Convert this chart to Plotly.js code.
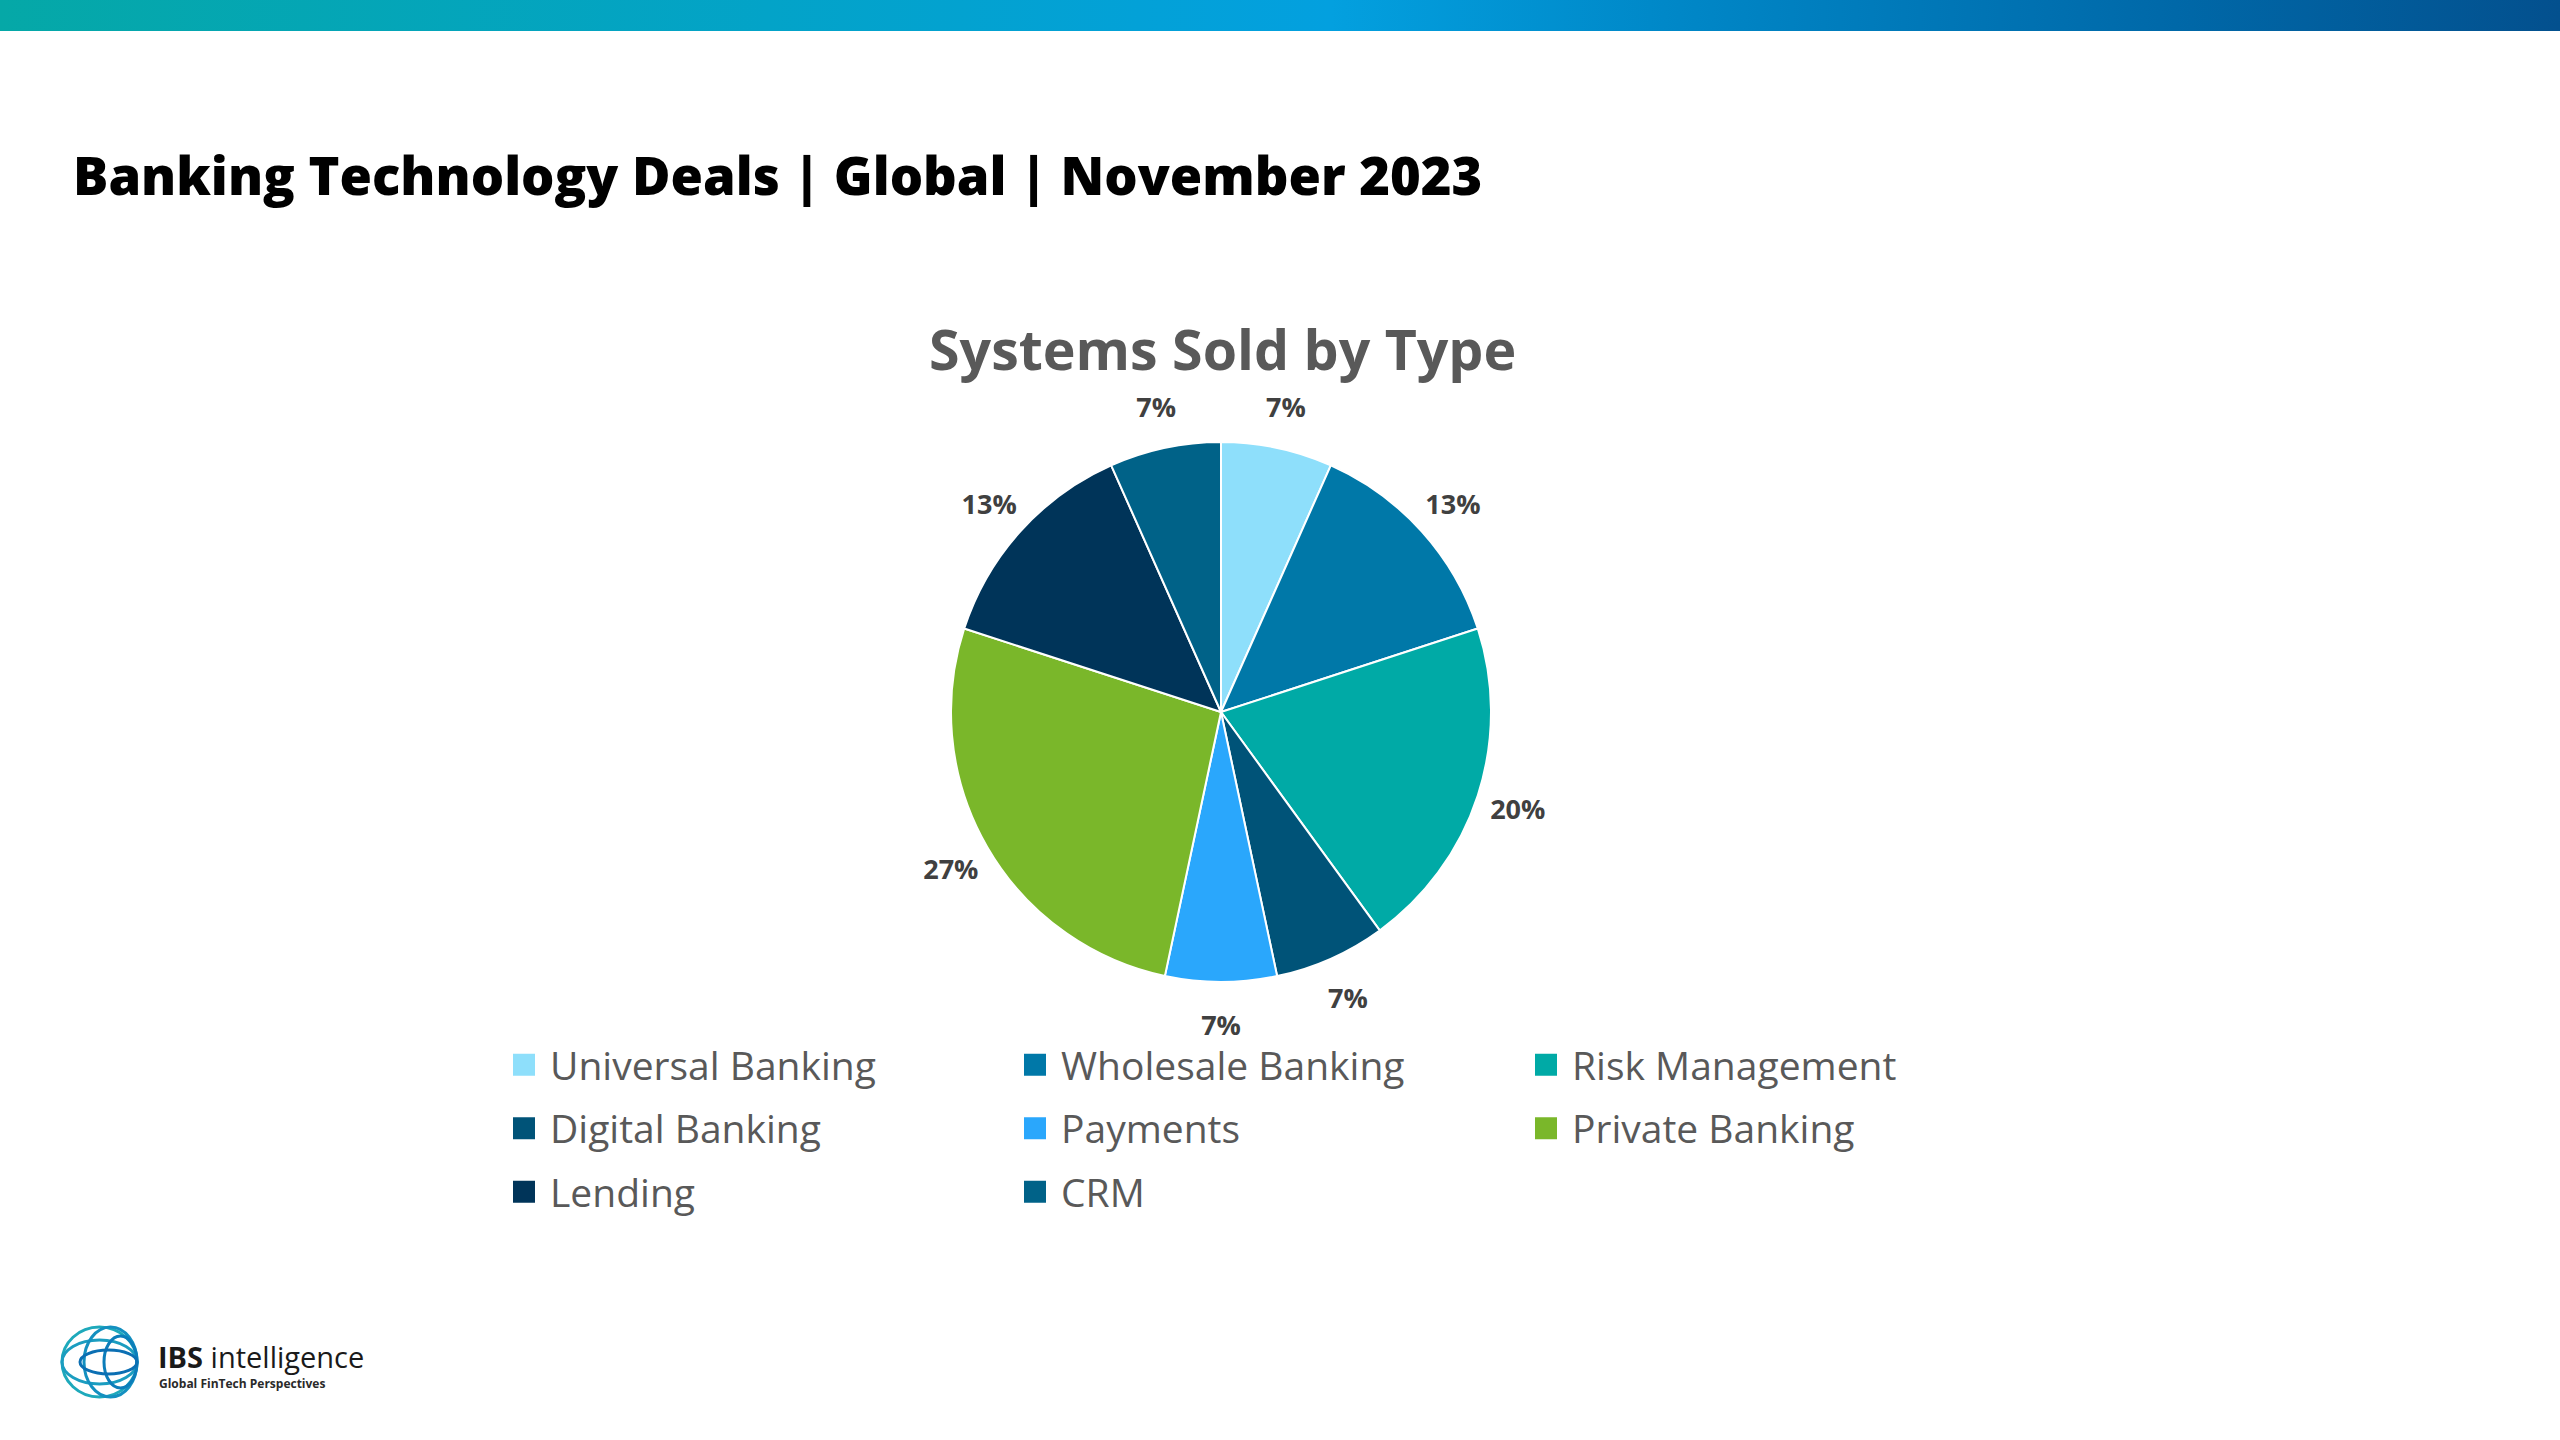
<!DOCTYPE html>
<html>
<head>
<meta charset="utf-8">
<script src="https://cdn.plot.ly/plotly-3.0.1.min.js"></script>
<style>
  body { margin: 0; background: #fff; }
  #topbar {
    position: absolute; left: 0; top: 0; width: 2560px; height: 31px; z-index: 5;
    background: linear-gradient(to right, #05a8a7 0%, #03a3c8 30%, #03a0df 52%, #0088c8 65%, #0068a8 85%, #03508e 100%);
  }
  #chart { width: 2560px; height: 1440px; }
  /* bigger legend squares and roomier rows, like the slide */
  path.legendpie { d: path("M6,15H-18V-9H6Z"); }
  .legend .legendtext { font-size: 39px !important; }
</style>
</head>
<body>
<div id="topbar"></div>
<div id="chart"></div>
<script>
  var systemTypes = ['Universal Banking', 'Wholesale Banking', 'Risk Management', 'Digital Banking',
                     'Payments', 'Private Banking', 'Lending', 'CRM'];
  var systemsSold = [1, 2, 3, 1, 1, 4, 2, 1];
  var sliceColors = ['#8edffb', '#0078a8', '#00aaa6', '#005378', '#2aa7fc', '#7ab72a', '#003459', '#006288'];

  // page is 2560 x 1440, plot area starts at x=430 and is 1700 wide
  var L = 430, W = 1700, H = 1440;
  function px(x) { return (x - L) / W; }
  function py(y) { return 1 - y / H; }

  var cx = 1221, cy = 712, R = 270;   // pie centre and radius in page px
  var labelR = 354;                    // outer edge of the invisible label ring

  var pie = {
    type: 'pie',
    labels: systemTypes,
    values: systemsSold,
    sort: false,
    direction: 'clockwise',
    rotation: 0,
    marker: { colors: sliceColors, line: { color: '#ffffff', width: 2 } },
    textinfo: 'none',
    domain: { x: [px(cx - R), px(cx + R)], y: [py(cy + R), py(cy - R)] },
    hoverinfo: 'label+value+percent'
  };

  // same slices again as a see-through ring around the pie, only to carry the % labels
  var labelRing = {
    type: 'pie',
    labels: systemTypes,
    values: systemsSold,
    sort: false,
    direction: 'clockwise',
    rotation: 0,
    hole: R / labelR,
    showlegend: false,
    marker: { colors: systemTypes.map(function () { return 'rgba(0,0,0,0)'; }), line: { width: 0 } },
    texttemplate: '%{percent:.0%}',
    textposition: 'inside',
    insidetextorientation: 'horizontal',
    insidetextfont: { family: 'Open Sans', size: 27, weight: 'bold', color: '#404040' },
    domain: { x: [px(cx - labelR), px(cx + labelR)], y: [py(cy + labelR), py(cy - labelR)] },
    hoverinfo: 'skip'
  };

  // IBS logo globe, rough
  var globe = [
    [62, 1327, 137, 1397, '#1ea9bb'],
    [62, 1340, 137, 1384, '#1b9dc0'],
    [84, 1327, 137, 1397, '#1490c0'],
    [104, 1336, 137, 1388, '#0c7dba'],
    [80, 1350, 137, 1374, '#0b6fb3']
  ];
  var shapes = globe.map(function (g) {
    return {
      type: 'circle', xref: 'paper', yref: 'paper',
      x0: px(g[0]), x1: px(g[2]), y0: py(g[3]), y1: py(g[1]),
      line: { color: g[4], width: 3 }, fillcolor: 'rgba(0,0,0,0)'
    };
  });

  var layout = {
    width: 2560, height: 1440,
    margin: { l: L, r: 2560 - L - W, t: 0, b: 0 },
    paper_bgcolor: '#ffffff',
    plot_bgcolor: '#ffffff',
    showlegend: true,
    title: {
      text: 'Banking Technology Deals | Global | November 2023',
      font: { family: 'Open Sans', size: 52.5, weight: 800, color: '#000000' },
      xref: 'container', yref: 'container', x: 73 / 2560, xanchor: 'left',
      y: 1 - 177 / 1440, yanchor: 'middle'
    },
    legend: {
      orientation: 'h',
      x: px(510), xanchor: 'left',
      y: py(1025), yanchor: 'top',
      bgcolor: 'rgba(0,0,0,0)',
      entrywidth: 466, entrywidthmode: 'pixels',
      font: { family: 'Open Sans', size: 46.5, color: '#595959' },
      traceorder: 'normal'
    },
    annotations: [
      { text: '<b>Systems Sold by Type</b>', xref: 'paper', yref: 'paper', x: px(1222), y: py(348),
        xanchor: 'center', yanchor: 'middle', showarrow: false,
        font: { family: 'Open Sans', size: 55.5, color: '#595959' } },
      { text: '<b>IBS</b> intelligence', xref: 'paper', yref: 'paper', x: px(156), y: py(1356),
        xanchor: 'left', yanchor: 'middle', showarrow: false,
        font: { family: 'Open Sans', size: 29, color: '#1a1a1a' } },
      { text: '<b>Global FinTech Perspectives</b>', xref: 'paper', yref: 'paper', x: px(157), y: py(1383),
        xanchor: 'left', yanchor: 'middle', showarrow: false,
        font: { family: 'Open Sans', size: 12, color: '#2a2a2a' } }
    ],
    shapes: shapes
  };

  Plotly.newPlot('chart', [pie, labelRing], layout, { displayModeBar: false, staticPlot: true });
</script>
</body>
</html>
